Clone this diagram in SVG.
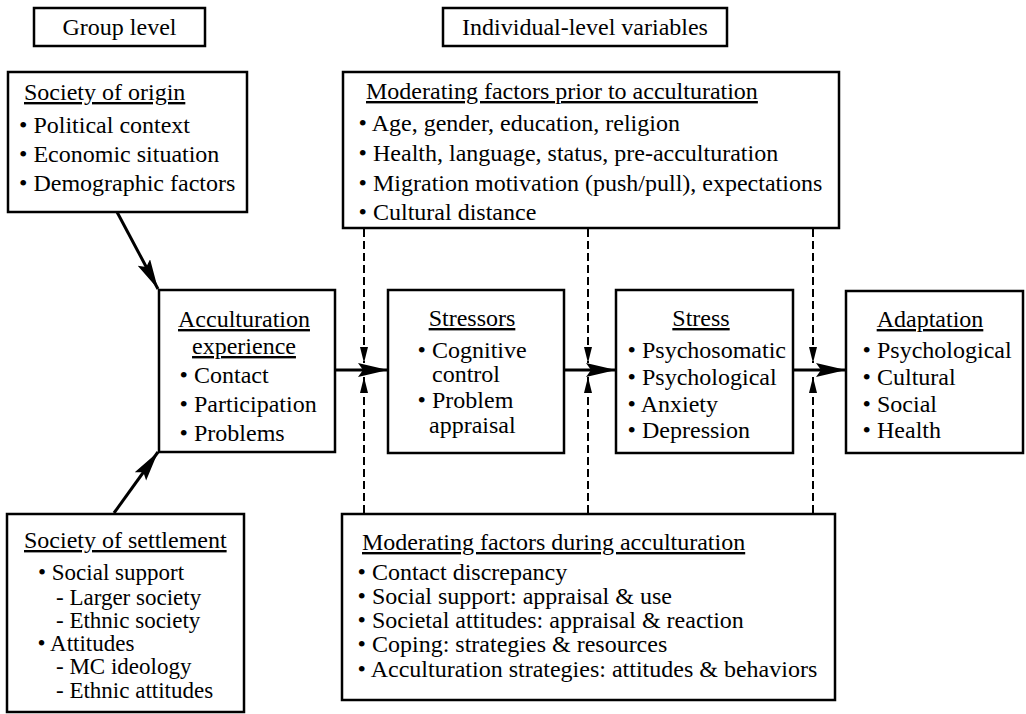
<svg xmlns="http://www.w3.org/2000/svg" width="1026" height="714" viewBox="0 0 1026 714">
  <style>
    text { font-family: "Liberation Serif", "Times New Roman", serif; font-size: 24px; fill: #000; }
    .c { text-anchor: middle; }
    .h { text-decoration: underline; }
    .sm { font-size: 23px; }
    .box { fill: #fff; stroke: #000; stroke-width: 2.5; }
    .main { fill: none; stroke: #000; stroke-width: 3; marker-end: url(#head); }
    .dash { fill: none; stroke: #000; stroke-width: 2; stroke-dasharray: 8 4; marker-end: url(#small); }
  </style>
  <defs>
    <!-- solid flow arrowhead -->
    <marker id="head" markerUnits="userSpaceOnUse" markerWidth="32" markerHeight="16" refX="30" refY="7" orient="auto">
      <path d="M0,0 L30,7 L0,14 L5,7 Z" fill="#000"/>
    </marker>
    <!-- small head for the dashed moderator lines -->
    <marker id="small" markerUnits="userSpaceOnUse" markerWidth="18" markerHeight="10" refX="16" refY="4" orient="auto">
      <path d="M0,0 L16,4 L0,8 Z" fill="#000"/>
    </marker>
  </defs>
  <rect width="1026" height="714" fill="#fff"/>

  <!-- connectors -->
  <g id="connectors">
    <line class="main" x1="117" y1="212" x2="158" y2="289"/>
    <line class="main" x1="114" y1="513" x2="158" y2="452"/>
    <line class="main" x1="335" y1="370" x2="388" y2="370"/>
    <line class="main" x1="564" y1="370" x2="616" y2="370"/>
    <line class="main" x1="793" y1="370" x2="846" y2="370"/>
    <line class="dash" x1="364" y1="229" x2="364" y2="363"/>
    <line class="dash" x1="588" y1="229" x2="588" y2="363"/>
    <line class="dash" x1="813" y1="229" x2="813" y2="363"/>
    <line class="dash" x1="364" y1="513" x2="364" y2="377"/>
    <line class="dash" x1="588" y1="513" x2="588" y2="377"/>
    <line class="dash" x1="813" y1="513" x2="813" y2="377"/>
  </g>

  <g id="group-level">
    <rect class="box" x="34" y="8" width="171" height="38"/>
    <text class="c" x="119.5" y="35">Group level</text>
  </g>

  <g id="individual-level">
    <rect class="box" x="443" y="8" width="284" height="38"/>
    <text class="c" x="585" y="35">Individual-level variables</text>
  </g>

  <g id="society-of-origin">
    <rect class="box" x="8" y="72" width="239" height="140"/>
    <text class="h" x="24" y="100">Society of origin</text>
    <text x="19" y="133">• Political context</text>
    <text x="19" y="162">• Economic situation</text>
    <text x="19" y="191">• Demographic factors</text>
  </g>

  <g id="prior-factors">
    <rect class="box" x="343" y="72" width="496" height="156"/>
    <text class="h" x="366" y="99">Moderating factors prior to acculturation</text>
    <text x="358.6" y="131">• Age, gender, education, religion</text>
    <text x="358.6" y="161">• Health, language, status, pre-acculturation</text>
    <text x="358.6" y="191">• Migration motivation (push/pull), expectations</text>
    <text x="358.6" y="220">• Cultural distance</text>
  </g>

  <g id="acculturation-experience">
    <rect class="box" x="159" y="290" width="176" height="162"/>
    <text class="c h" x="244" y="327">Acculturation</text>
    <text class="c h" x="244" y="354">experience</text>
    <text x="179.6" y="383">• Contact</text>
    <text x="179.6" y="412">• Participation</text>
    <text x="179.6" y="441">• Problems</text>
  </g>

  <g id="stressors">
    <rect class="box" x="388" y="290" width="176" height="163"/>
    <text class="c h" x="472" y="326">Stressors</text>
    <text x="417.6" y="358">• Cognitive</text>
    <text x="432" y="382">control</text>
    <text x="417.6" y="408">• Problem</text>
    <text x="429" y="433">appraisal</text>
  </g>

  <g id="stress">
    <rect class="box" x="616" y="290" width="177" height="163"/>
    <text class="c h" x="701" y="326">Stress</text>
    <text x="627.6" y="358">• Psychosomatic</text>
    <text x="627.6" y="385">• Psychological</text>
    <text x="627.6" y="412">• Anxiety</text>
    <text x="627.6" y="438">• Depression</text>
  </g>

  <g id="adaptation">
    <rect class="box" x="846" y="291" width="177" height="162"/>
    <text class="c h" x="930" y="327">Adaptation</text>
    <text x="862.6" y="358">• Psychological</text>
    <text x="862.6" y="385">• Cultural</text>
    <text x="862.6" y="412">• Social</text>
    <text x="862.6" y="438">• Health</text>
  </g>

  <g id="society-of-settlement">
    <rect class="box" x="7" y="514" width="237" height="198"/>
    <text class="h" x="24" y="548">Society of settlement</text>
    <text class="sm" x="38" y="580">• Social support</text>
    <text class="sm" x="56" y="605">- Larger society</text>
    <text class="sm" x="56" y="628">- Ethnic society</text>
    <text class="sm" x="37.5" y="651">• Attitudes</text>
    <text class="sm" x="56" y="674">- MC ideology</text>
    <text class="sm" x="56" y="698">- Ethnic attitudes</text>
  </g>

  <g id="during-factors">
    <rect class="box" x="342" y="514" width="493" height="186"/>
    <text class="h" x="362" y="550">Moderating factors during acculturation</text>
    <text x="357.6" y="580">• Contact discrepancy</text>
    <text x="357.6" y="604">• Social support: appraisal &amp; use</text>
    <text x="357.6" y="628">• Societal attitudes: appraisal &amp; reaction</text>
    <text x="357.6" y="652">• Coping: strategies &amp; resources</text>
    <text x="357.6" y="677">• Acculturation strategies: attitudes &amp; behaviors</text>
  </g>
</svg>
